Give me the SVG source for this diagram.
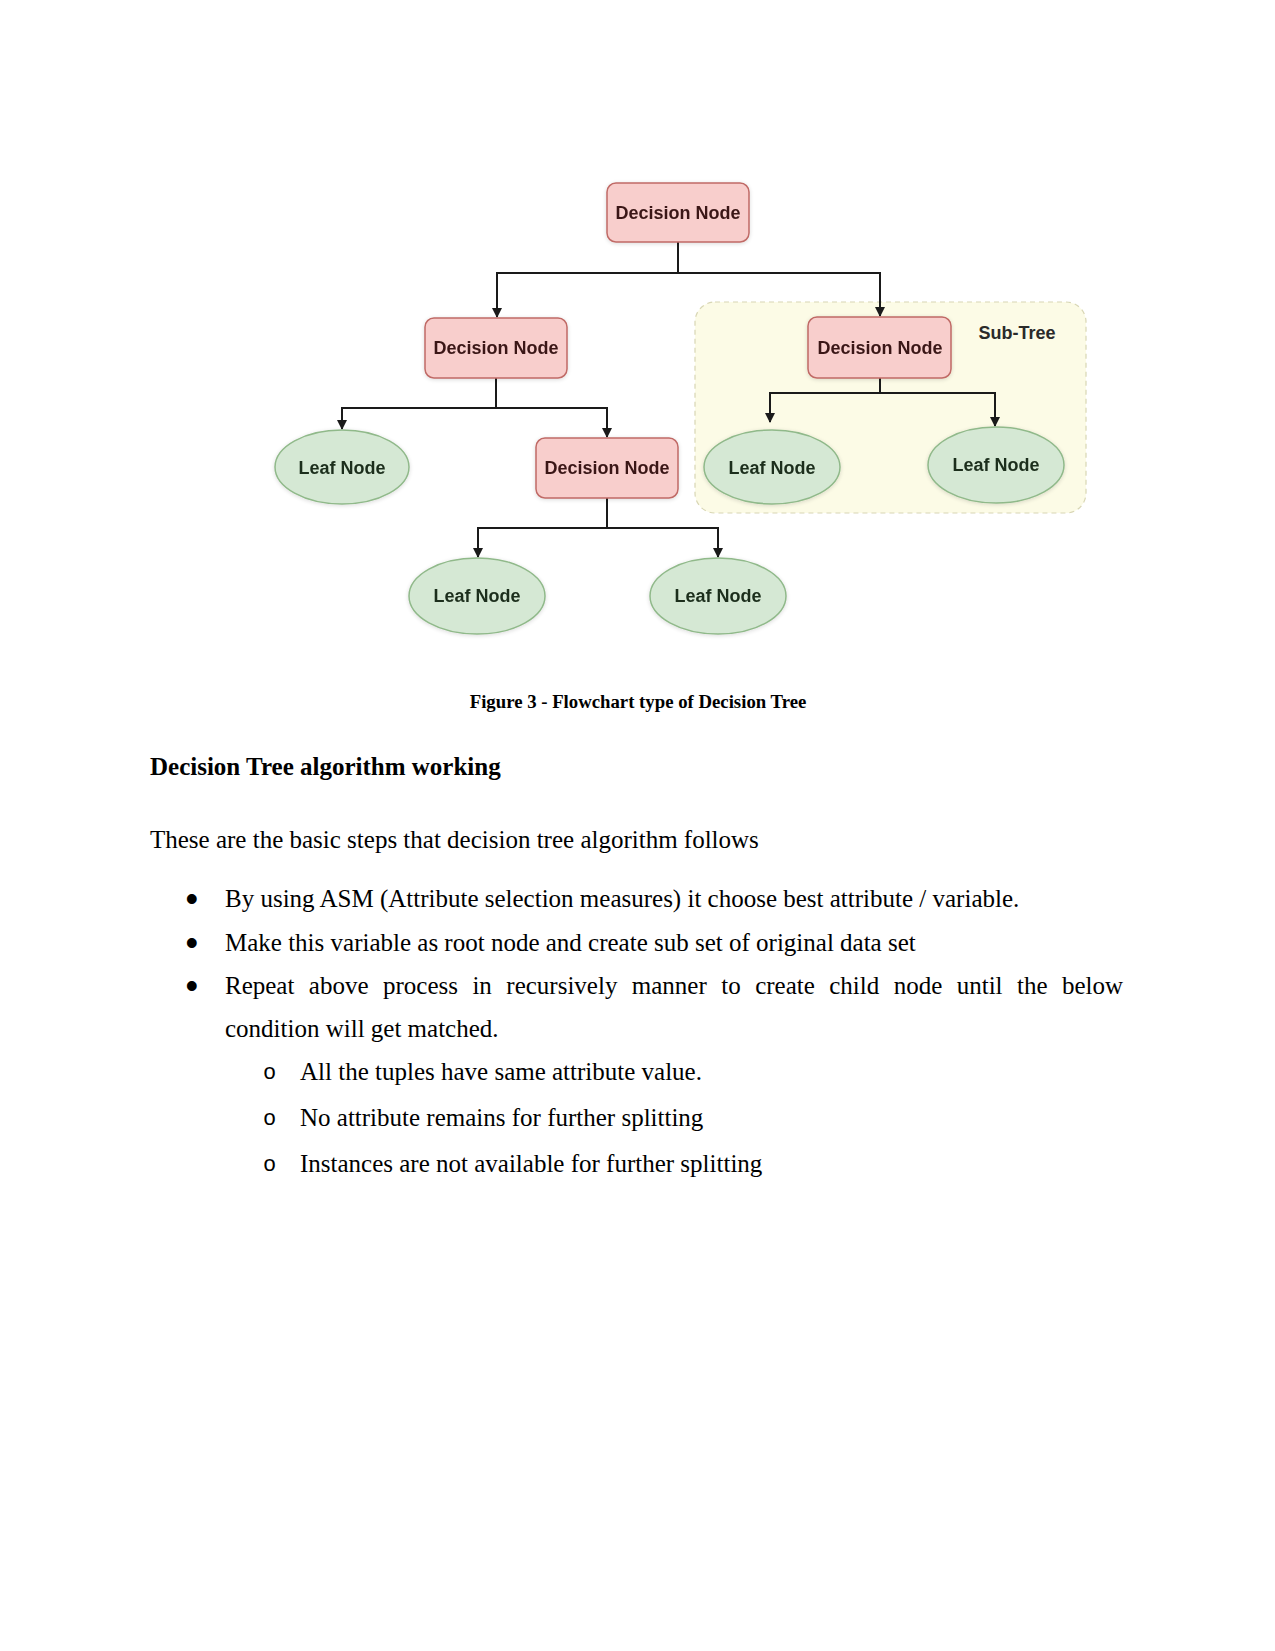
<svg xmlns="http://www.w3.org/2000/svg" width="1275" height="1651" viewBox="0 0 1275 1651">
<defs>
<marker id="arr" viewBox="0 0 10 10" refX="9" refY="5" markerWidth="5" markerHeight="5" orient="auto" markerUnits="strokeWidth">
<path d="M0,0 L10,5 L0,10 z" fill="#1a1a1a"/>
</marker>
<filter id="sh" x="-20%" y="-20%" width="140%" height="140%">
<feGaussianBlur in="SourceAlpha" stdDeviation="2"/>
<feOffset dx="0" dy="1" result="b"/>
<feComponentTransfer><feFuncA type="linear" slope="0.15"/></feComponentTransfer>
<feMerge><feMergeNode/><feMergeNode in="SourceGraphic"/></feMerge>
</filter>
</defs>
<style>
.dec{fill:#f8cecc;stroke:#c06a66;stroke-width:1.5}
.leaf{fill:#d5e8d4;stroke:#90b98a;stroke-width:1.5}
.nt{font-family:"Liberation Sans",Arial,sans-serif;font-weight:bold;font-size:18px;text-anchor:middle}
.dt{fill:#3a1818}
.lt{fill:#1c2e1c}
.con{fill:none;stroke:#1a1a1a;stroke-width:2}
.body{font-family:"Liberation Serif","Times New Roman",serif;font-size:25px;fill:#000}
.bul{font-family:"Liberation Sans",Arial,sans-serif;font-size:36px;fill:#000;text-anchor:middle}
.mono{font-family:"Liberation Mono","Courier New",monospace;font-size:22px;fill:#000}
</style>
<rect width="1275" height="1651" fill="#ffffff"/>

<g id="subtree">
<rect x="695" y="302" width="391" height="211" rx="20" fill="#fcfbe6" stroke="#d8d6b4" stroke-width="1.2" stroke-dasharray="5,4"/>
<text x="1017" y="339" class="nt" fill="#2a2a2a">Sub-Tree</text>
</g>

<g id="connectors">
<path class="con" d="M678,242 V273 H497 V317" marker-end="url(#arr)"/>
<path class="con" d="M678,273 H880 V316" marker-end="url(#arr)"/>
<path class="con" d="M496,378 V408 H342 V429" marker-end="url(#arr)"/>
<path class="con" d="M496,408 H607 V437" marker-end="url(#arr)"/>
<path class="con" d="M607,498 V528 H478 V557" marker-end="url(#arr)"/>
<path class="con" d="M607,528 H718 V557" marker-end="url(#arr)"/>
<path class="con" d="M880,378 V393 H770 V422" marker-end="url(#arr)"/>
<path class="con" d="M880,393 H995 V426" marker-end="url(#arr)"/>
</g>

<g id="root" filter="url(#sh)">
<rect class="dec" x="607" y="183" width="142" height="59" rx="9"/>
<text class="nt dt" x="678" y="219">Decision Node</text>
</g>
<g id="dec-left" filter="url(#sh)">
<rect class="dec" x="425" y="318" width="142" height="60" rx="9"/>
<text class="nt dt" x="496" y="354">Decision Node</text>
</g>
<g id="dec-sub" filter="url(#sh)">
<rect class="dec" x="808" y="317" width="143" height="61" rx="9"/>
<text class="nt dt" x="880" y="354">Decision Node</text>
</g>
<g id="dec-mid" filter="url(#sh)">
<rect class="dec" x="536" y="438" width="142" height="60" rx="9"/>
<text class="nt dt" x="607" y="474">Decision Node</text>
</g>
<g id="leaf-1" filter="url(#sh)">
<ellipse class="leaf" cx="342" cy="467" rx="67" ry="37"/>
<text class="nt lt" x="342" y="474">Leaf Node</text>
</g>
<g id="leaf-2" filter="url(#sh)">
<ellipse class="leaf" cx="772" cy="467" rx="68" ry="37"/>
<text class="nt lt" x="772" y="474">Leaf Node</text>
</g>
<g id="leaf-3" filter="url(#sh)">
<ellipse class="leaf" cx="996" cy="465" rx="68" ry="38"/>
<text class="nt lt" x="996" y="471">Leaf Node</text>
</g>
<g id="leaf-4" filter="url(#sh)">
<ellipse class="leaf" cx="477" cy="596" rx="68" ry="38"/>
<text class="nt lt" x="477" y="602">Leaf Node</text>
</g>
<g id="leaf-5" filter="url(#sh)">
<ellipse class="leaf" cx="718" cy="596" rx="68" ry="38"/>
<text class="nt lt" x="718" y="602">Leaf Node</text>
</g>

<g id="text">
<text x="638" y="708" font-family="Liberation Serif,'Times New Roman',serif" font-weight="bold" font-size="18.75" text-anchor="middle">Figure 3 - Flowchart type of Decision Tree</text>
<text x="150" y="775" class="body" font-weight="bold">Decision Tree algorithm working</text>
<text x="150" y="848" class="body">These are the basic steps that decision tree algorithm follows</text>
<text x="191.7" y="911" class="bul">•</text>
<text x="225" y="907" class="body">By using ASM (Attribute selection measures) it choose best attribute / variable.</text>
<text x="191.7" y="955" class="bul">•</text>
<text x="225" y="951" class="body">Make this variable as root node and create sub set of original data set</text>
<text x="191.7" y="998" class="bul">•</text>
<text x="225" y="994" class="body" word-spacing="8.2">Repeat above process in recursively manner to create child node until the below</text>
<text x="225" y="1037" class="body">condition will get matched.</text>
<text x="263" y="1079" class="mono">o</text>
<text x="300" y="1080" class="body">All the tuples have same attribute value.</text>
<text x="263" y="1125" class="mono">o</text>
<text x="300" y="1126" class="body">No attribute remains for further splitting</text>
<text x="263" y="1171" class="mono">o</text>
<text x="300" y="1172" class="body">Instances are not available for further splitting</text>
</g>
</svg>
